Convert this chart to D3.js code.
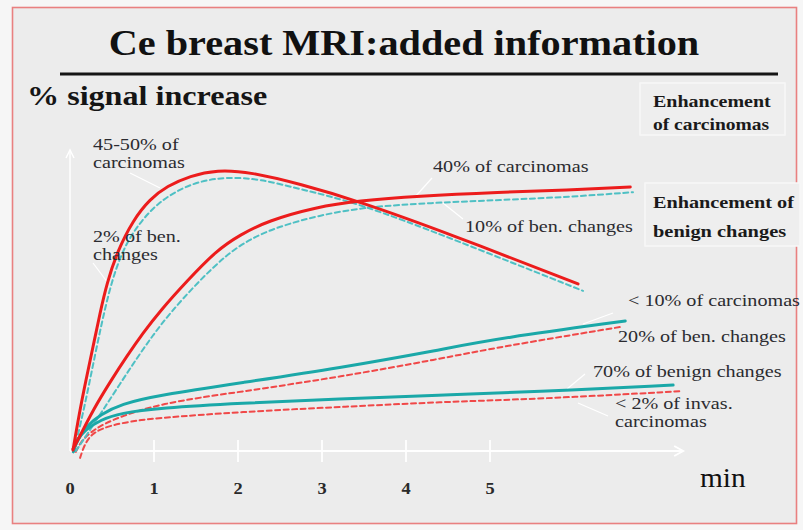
<!DOCTYPE html>
<html>
<head>
<meta charset="utf-8">
<script src="https://cdn.jsdelivr.net/npm/d3@7/dist/d3.min.js"></script>
<style>
  html, body { margin: 0; padding: 0; background: #f6f6f6; }
  svg { display: block; }
  text { font-family: "Liberation Serif", "Times New Roman", serif; }
</style>
</head>
<body>
<svg id="chart" width="803" height="530"></svg>
<script>
// ---------------- DATA ----------------
// time in minutes, signal increase in %
const xTickValues = [0, 1, 2, 3, 4, 5];
const xTickLabels = ["0", "1", "2", "3", "4", "5"];

// washout curve (red solid) – 45-50% of carcinomas
const washoutCarcT = [0.036, 0.107, 0.19, 0.274, 0.357, 0.44, 0.56, 0.75, 0.952, 1.155, 1.429, 1.75, 2.143, 2.738, 3.429, 4.524, 6.048];
const washoutCarcV = [0.3, 12, 23.6, 34.6, 45.8, 55.8, 66.1, 76.7, 83.7, 88, 91.4, 93.4, 92.7, 88.7, 83.1, 72.1, 55.5];
// washout curve (cyan dashed) – 2% of ben. changes
const washoutBenT = [0.048, 0.131, 0.214, 0.298, 0.381, 0.464, 0.56, 0.69, 0.857, 1.048, 1.286, 1.548, 1.869, 2.262, 2.738, 3.429, 4.524, 6.107];
const washoutBenV = [0, 9.6, 20.3, 31.9, 42.9, 52.8, 61.8, 70.1, 76.7, 82.4, 86.7, 89.7, 91, 90.4, 87, 82.4, 70.8, 53.2];

// plateau curve (red solid) – 40% of carcinomas
const plateauCarcT = [0.036, 0.119, 0.274, 0.476, 0.679, 0.869, 1.071, 1.393, 1.75, 2.024, 2.345, 2.94, 3.43, 4.13, 5.12, 5.92, 6.67];
const plateauCarcV = [0.7, 5, 13.6, 22.9, 31.6, 39.2, 46.5, 56.5, 66.8, 71.8, 76.4, 81.1, 83.1, 84.7, 86, 86.7, 87.7];
// plateau curve (cyan dashed) – 10% of ben. changes
const plateauBenT = [0.071, 0.214, 0.393, 0.595, 0.798, 0.988, 1.19, 1.512, 1.869, 2.143, 2.464, 2.976, 3.536, 4.286, 5.119, 5.952, 6.702];
const plateauBenV = [0, 6, 13.6, 22.3, 30.9, 38.5, 45.8, 55.8, 65.4, 70.4, 74.4, 78.4, 81.1, 82.4, 83.4, 84.4, 86];

// steady rise (cyan solid) – 20% of ben. changes
const riseBenT = [0.04, 0.10, 0.21, 0.36, 0.60, 1.07, 2.02, 3.21, 4.40, 5.12, 6.61];
const riseBenV = [0.3, 4.3, 8.6, 12, 15.6, 18.6, 22.6, 27.6, 33.6, 37.5, 43.2];
// steady rise (red dashed) – < 10% of carcinomas
const riseCarcT = [0.07, 0.12, 0.24, 0.48, 1.07, 2.02, 3.21, 4.40, 5.12, 6.55];
const riseCarcV = [-0.3, 2.7, 6.3, 10.3, 15.9, 19.6, 24.6, 30.6, 34.6, 41.2];

// slow rise (cyan solid) – 70% of benign changes
const slowBenT = [0.04, 0.08, 0.18, 0.36, 0.60, 1.07, 2.02, 3.21, 4.40, 5.51, 7.18];
const slowBenV = [-0.3, 3.7, 7, 10.3, 12.6, 14.3, 15.9, 17.3, 18.6, 19.6, 21.9];
// slow rise (red dashed) – < 2% of invas. carcinomas
const slowCarcT = [0.12, 0.17, 0.26, 0.48, 0.83, 1.07, 2.02, 3.21, 4.40, 5.60, 7.29];
const slowCarcV = [-2.3, 2, 6, 8.6, 10.3, 11, 13, 14.6, 16.3, 17.3, 19.9];

const titleText = "Ce breast MRI:added information";
const yTitleText = "% signal increase";
const xTitleText = "min";
const legendCarcLines = ["Enhancement", "of  carcinomas"];
const legendBenLines = ["Enhancement of", "benign changes"];
const annotationLines = [
  "45-50% of", "carcinomas",
  "2% of ben.", "changes",
  "40% of carcinomas",
  "10% of ben. changes",
  "< 10% of carcinomas",
  "20% of ben. changes",
  "70% of benign changes",
  "< 2% of  invas.", "carcinomas"
];

// ---------------- LAYOUT ----------------
const annotationPos = [
  [93, 150], [93, 168],
  [93, 242], [93, 260],
  [433, 172],
  [465, 232],
  [628, 306],
  [618, 342],
  [593, 377],
  [615, 409], [615, 427]
];
const leaderPos = [
  [130, 173, 160, 188],
  [93, 263, 108, 283],
  [432, 178, 415, 197],
  [443, 203, 463, 219],
  [613, 313, 583, 324],
  [585, 374, 567, 389],
  [578, 403, 608, 416]
];

const RED = "#ec1c1c";
const TEAL = "#1aa8a8";
const CYAN_D = "#4fc0c4";
const RED_D = "#f04848";

const svg = d3.select("#chart");

// background and frame
svg.append("rect").attr("x", 0).attr("y", 0).attr("width", 803).attr("height", 530).attr("fill", "#f6f6f6");
svg.append("rect").attr("x", 12.5).attr("y", 7.5).attr("width", 784).attr("height", 516)
  .attr("fill", "#ececec").attr("stroke", "#e98080").attr("stroke-width", 1.6);

const x = d3.scaleLinear().domain([0, 7.3]).range([70, 683.2]);
const y = d3.scaleLinear().domain([0, 100]).range([451, 150]);

function stext(x0, y0, str, size, weight, sx, color, anchor) {
  const g = svg.append("g").attr("transform", `translate(${x0},${y0}) scale(${sx},1)`);
  return g.append("text")
    .attr("text-anchor", anchor || "start")
    .attr("font-size", size)
    .attr("font-weight", weight)
    .attr("fill", color)
    .text(str);
}

// title and rule
stext(404, 55, titleText, 35, "bold", 1.15, "#111", "middle");
svg.append("line").attr("x1", 60).attr("x2", 778).attr("y1", 74).attr("y2", 74)
  .attr("stroke", "#151515").attr("stroke-width", 3);
stext(27, 105, yTitleText, 27, "bold", 1.19, "#151515");

// legend boxes
svg.append("rect").attr("x", 640).attr("y", 83).attr("width", 145).attr("height", 52)
  .attr("fill", "#eeeeee").attr("stroke", "#f7f7f7").attr("stroke-width", 1.5);
svg.append("rect").attr("x", 645).attr("y", 183).attr("width", 155).attr("height", 63)
  .attr("fill", "#eeeeee").attr("stroke", "#f7f7f7").attr("stroke-width", 1.5);
stext(653, 107, legendCarcLines[0], 16, "bold", 1.25, "#1a1a1a");
stext(653, 130, legendCarcLines[1], 16, "bold", 1.22, "#1a1a1a");
stext(653, 208, legendBenLines[0], 17, "bold", 1.19, "#1a1a1a");
stext(653, 237, legendBenLines[1], 17, "bold", 1.2, "#1a1a1a");

// axes (white)
const axisG = svg.append("g");
axisG.append("line").attr("x1", x(0)).attr("x2", x(7.3)).attr("y1", y(0)).attr("y2", y(0))
  .attr("stroke", "#ffffff").attr("stroke-width", 1.8);
axisG.append("path").attr("d", `M${x(7.3) - 9},${y(0) - 5} L${x(7.3)},${y(0)} L${x(7.3) - 9},${y(0) + 5}`)
  .attr("fill", "none").attr("stroke", "#ffffff").attr("stroke-width", 1.8);
axisG.append("line").attr("x1", x(0)).attr("x2", x(0)).attr("y1", y(0)).attr("y2", y(100))
  .attr("stroke", "#ffffff").attr("stroke-width", 1.5);
axisG.append("path").attr("d", `M${x(0) - 4},${y(100) + 8} L${x(0)},${y(100)} L${x(0) + 4},${y(100) + 8}`)
  .attr("fill", "none").attr("stroke", "#ffffff").attr("stroke-width", 1.5);

axisG.selectAll("line.tick").data(xTickValues.filter(d => d > 0)).join("line")
  .attr("class", "tick")
  .attr("x1", d => x(d)).attr("x2", d => x(d))
  .attr("y1", y(0) - 11).attr("y2", y(0) + 11)
  .attr("stroke", "#ffffff").attr("stroke-width", 1.8);

xTickValues.forEach((d, i) => {
  stext(x(d), 494, xTickLabels[i], 16, "bold", 1.15, "#2a2a2a", "middle");
});
stext(700, 487, xTitleText, 28, "normal", 1.05, "#111");

// leader lines
svg.selectAll("line.leader").data(leaderPos).join("line")
  .attr("class", "leader")
  .attr("x1", d => d[0]).attr("y1", d => d[1]).attr("x2", d => d[2]).attr("y2", d => d[3])
  .attr("stroke", "#ffffff").attr("stroke-width", 1.2);

// curves
const lineGen = d3.line().x(d => x(d[0])).y(d => y(d[1])).curve(d3.curveBasis);
function zip(t, v) { return t.map((tt, i) => [tt, v[i]]); }

const series = [
  { t: slowCarcT, v: slowCarcV, color: RED_D, w: 2, dash: "5,3.5" },
  { t: riseCarcT, v: riseCarcV, color: RED_D, w: 2, dash: "5,3.5" },
  { t: washoutBenT, v: washoutBenV, color: CYAN_D, w: 2, dash: "5,3.5" },
  { t: plateauBenT, v: plateauBenV, color: CYAN_D, w: 2, dash: "5,3.5" },
  { t: slowBenT, v: slowBenV, color: TEAL, w: 3, dash: null },
  { t: riseBenT, v: riseBenV, color: TEAL, w: 3, dash: null },
  { t: plateauCarcT, v: plateauCarcV, color: RED, w: 3, dash: null },
  { t: washoutCarcT, v: washoutCarcV, color: RED, w: 3, dash: null }
];
svg.append("g").selectAll("path").data(series).join("path")
  .attr("d", s => lineGen(zip(s.t, s.v)))
  .attr("fill", "none")
  .attr("stroke", s => s.color)
  .attr("stroke-width", s => s.w)
  .attr("stroke-linecap", "round")
  .attr("stroke-dasharray", s => s.dash);

// annotations
annotationLines.forEach((str, i) => {
  stext(annotationPos[i][0], annotationPos[i][1], str, 16, "normal", 1.26, "#2b2b30");
});
</script>
</body>
</html>
